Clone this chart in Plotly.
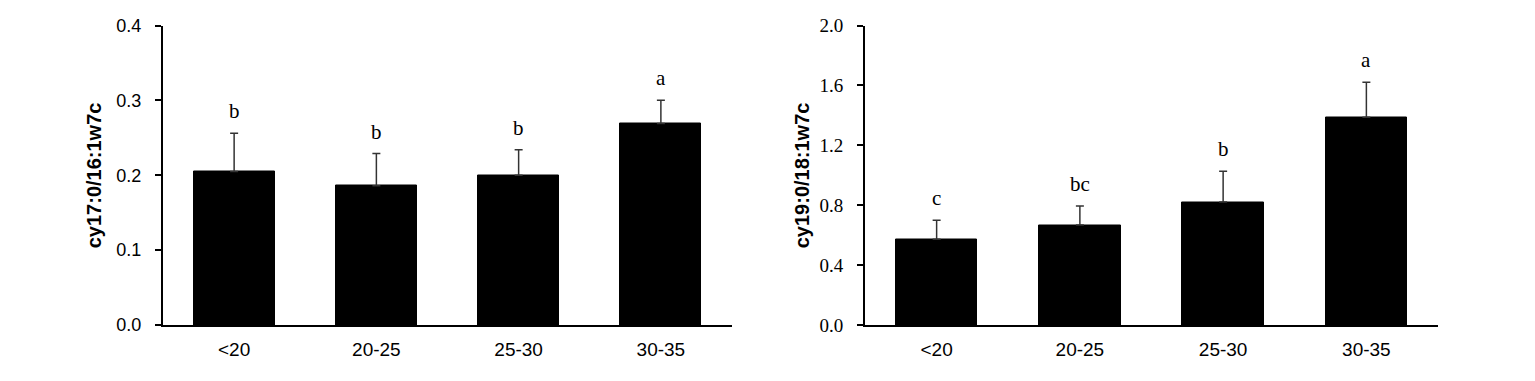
import plotly.graph_objects as go

categories = ["<20", "20-25", "25-30", "30-35"]

left_values = [0.205, 0.186, 0.200, 0.269]
left_errors = [0.051, 0.043, 0.034, 0.031]
left_letters = ["b", "b", "b", "a"]
left_title = "cy17:0/16:1w7c"
left_ticks = [0.0, 0.1, 0.2, 0.3, 0.4]

right_values = [0.573, 0.667, 0.821, 1.387]
right_errors = [0.127, 0.127, 0.205, 0.234]
right_letters = ["c", "bc", "b", "a"]
right_title = "cy19:0/18:1w7c"
right_ticks = [0.0, 0.4, 0.8, 1.2, 1.6, 2.0]

# page body margin offset (8px) is compensated
OFF = 8
W, H = 1535 - 2 * OFF, 381 - 2 * OFF
SANS = "Liberation Sans, Arial, sans-serif"
SERIF = "Liberation Serif, Times New Roman, serif"


def px_x(x):
    return (x - OFF) / W


def px_y(y):
    return (H - (y - OFF)) / H


fig = go.Figure()


def add_panel(vals, errs, xa, ya):
    fig.add_trace(go.Bar(
        x=categories, y=vals, xaxis=xa, yaxis=ya,
        width=0.57,
        marker=dict(color="black", line=dict(color="black", width=1)),
        error_y=dict(type="data", symmetric=False, array=errs,
                     arrayminus=[0] * len(errs),
                     color="#333333", thickness=1.5, width=4),
        showlegend=False, hoverinfo="skip",
    ))


add_panel(left_values, left_errors, "x", "y")
add_panel(right_values, right_errors, "x2", "y2")

ydom = [px_y(325), px_y(25.5)]
common_x = dict(
    type="category", range=[-0.5, 3.5], showline=True, linecolor="black",
    linewidth=2, ticks="", showgrid=False, zeroline=False, automargin=False,
    tickfont=dict(family=SANS, size=19, color="black"),
    ticklabelstandoff=6,
)
common_y = dict(
    showline=True, linecolor="black", linewidth=2, ticks="outside",
    ticklen=6, tickwidth=2, tickcolor="black", showgrid=False,
    zeroline=False, domain=ydom, tickformat=".1f", automargin=False,
)

fig.update_layout(
    width=W, height=H,
    margin=dict(l=0, r=0, t=0, b=0, autoexpand=False),
    plot_bgcolor="white", paper_bgcolor="white",
    bargap=0,
    xaxis=dict(domain=[px_x(163), px_x(732)], anchor="y", **common_x),
    yaxis=dict(anchor="x", range=[0, 0.4], tickvals=left_ticks,
               tickfont=dict(family=SANS, size=18, color="black"),
               ticklabelstandoff=10, **common_y),
    xaxis2=dict(domain=[px_x(865), px_x(1438)], anchor="y2", **common_x),
    yaxis2=dict(anchor="x2", range=[0, 2.0], tickvals=right_ticks,
                tickfont=dict(family=SERIF, size=19, color="black"),
                ticklabelstandoff=10, **common_y),
)

annotations = []
for cats, vals, errs, letters, xr, yr in [
    (categories, left_values, left_errors, left_letters, "x", "y"),
    (categories, right_values, right_errors, right_letters, "x2", "y2"),
]:
    for c, v, e, t in zip(cats, vals, errs, letters):
        annotations.append(dict(
            x=c, y=v + e, xref=xr, yref=yr, text=t, showarrow=False,
            yanchor="bottom", yshift=8,
            font=dict(family=SERIF, size=21, color="black"),
        ))

for txt, xc in [(left_title, 94), (right_title, 802)]:
    annotations.append(dict(
        x=px_x(xc), y=(ydom[0] + ydom[1]) / 2, xref="paper", yref="paper",
        text="<b>" + txt + "</b>", textangle=-90, showarrow=False,
        xanchor="center", yanchor="middle",
        font=dict(family=SANS, size=20, color="black"),
    ))

fig.update_layout(annotations=annotations)
fig.write_html("out.html")
